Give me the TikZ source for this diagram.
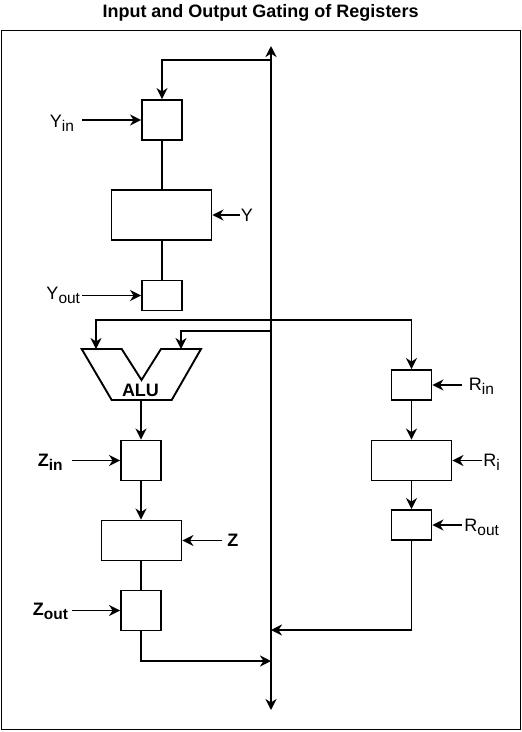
\documentclass[tikz,border=0pt]{standalone}
\usepackage{fontspec}
\setmainfont{Liberation Sans}
\usetikzlibrary{arrows.meta}
\newcommand\lowsub[1]{\raisebox{-0.45ex}{\fontsize{15.5}{15.5}\selectfont #1}}
\begin{document}
\begin{tikzpicture}[x=1pt,y=-1pt,line width=1.9pt,
  box/.style={draw,rectangle,inner sep=0pt,line width=1.9pt},
  arr/.style={-{Stealth[length=11pt,width=11pt,inset=3.5pt]}},
  darr/.style={{Stealth[length=11pt,width=11pt,inset=3.5pt]}-{Stealth[length=11pt,width=11pt,inset=3.5pt]}},
  lab/.style={inner sep=0pt,font=\fontsize{18}{18}\selectfont},
  blab/.style={inner sep=0pt,font=\fontsize{18}{18}\selectfont\bfseries},
  ttl/.style={inner sep=0pt,font=\fontsize{18}{18}\selectfont\bfseries}]
\useasboundingbox (0,0) rectangle (522,732);
% title and frame
\node[ttl,anchor=base] (title) at (260.5,17.5) {Input and Output Gating of Registers};
\draw[line width=1.9pt] (1.5,30.5) rectangle (520.5,729.5);
% bus coordinates
\coordinate (bustop) at (271,46);
\coordinate (busbot) at (271,710);
\coordinate (j1) at (271,60);
\coordinate (j3) at (271,331);
\coordinate (j4) at (271,630);
\coordinate (j5) at (271,661);
\draw[darr] (busbot) -- (bustop);
% Y register
\node[box,minimum width=40pt,minimum height=40pt] (yin) at (162,120) {};
\node[box,minimum width=100pt,minimum height=50pt] (ybox) at (161.5,215) {};
\node[box,minimum width=40pt,minimum height=30pt] (yout) at (162,295.5) {};
\draw[arr] (j1) -| (yin.north);
\draw (yin.south) -- (ybox.north -| yin.south);
\draw (ybox.south -| yout.north) -- (yout.north);
\coordinate (yinsrc) at (82,120);
\coordinate (ysrc) at (240,215);
\coordinate (youtsrc) at (82,295.5);
\draw[arr] (yinsrc) -- (yin.west);
\draw[arr] (ysrc) -- (ybox.east);
\draw[arr] (youtsrc) -- (yout.west);
\node[lab,anchor=base east] (lyin) at (75,127) {Y\lowsub{in}};
\node[lab,anchor=base west] (ly) at (240,221.5) {Y};
\node[lab,anchor=base east] (lyout) at (81,299.5) {Y\lowsub{out}};
% ALU
\coordinate (alu1) at (81.7,349);
\coordinate (alu2) at (121.7,349);
\coordinate (alu3) at (141.5,380);
\coordinate (alu4) at (161,349);
\coordinate (alu5) at (201,349);
\coordinate (alu6) at (171.7,400);
\coordinate (alu7) at (111.7,400);
\draw[line join=miter] (alu1) -- (alu2) -- (alu3) -- (alu4) -- (alu5) -- (alu6) -- (alu7) -- cycle;
\coordinate (alua) at (96,349);
\coordinate (alub) at (181,349);
\coordinate (aluout) at (141,400);
\node[blab,anchor=base] (lalu) at (140.5,396) {ALU};
% Z register
\node[box,minimum width=40pt,minimum height=40pt] (zin) at (141,460.5) {};
\node[box,minimum width=80pt,minimum height=40pt] (zbox) at (141.5,540.5) {};
\node[box,minimum width=40pt,minimum height=40pt] (zout) at (141,610.5) {};
\draw[arr] (aluout) -- (zin.north);
\draw[arr] (zin.south) -- (zbox.north -| zin.south);
\draw (zbox.south -| zout.north) -- (zout.north);
\draw[arr] (zout.south) |- (j5);
\coordinate (zinsrc) at (72,460.5);
\coordinate (zsrc) at (222,540.5);
\coordinate (zoutsrc) at (72,610.5);
\draw[arr] (zinsrc) -- (zin.west);
\draw[arr] (zsrc) -- (zbox.east);
\draw[arr] (zoutsrc) -- (zout.west);
\node[blab,anchor=base east] (lzin) at (63.5,466) {Z\lowsub{in}};
\node[blab,anchor=base west] (lz) at (226.5,546) {Z};
\node[blab,anchor=base east] (lzout) at (69,615) {Z\lowsub{out}};
% R register
\node[box,minimum width=40pt,minimum height=30pt] (rin) at (411.5,385) {};
\node[box,minimum width=80pt,minimum height=40pt] (ri) at (411.5,460.5) {};
\node[box,minimum width=40pt,minimum height=30pt] (rout) at (411.5,525) {};
\draw[darr] (alua) -- (alua |- 0,320) -| (rin.north);
\draw[arr] (j3) -| (alub);
\draw[arr] (rin.south) -- (ri.north);
\draw[arr] (ri.south) -- (rout.north);
\draw[arr] (rout.south) |- (j4);
\coordinate (rinsrc) at (462,385);
\coordinate (risrc) at (482,460.5);
\coordinate (routsrc) at (462,525);
\draw[arr] (rinsrc) -- (rin.east);
\draw[arr] (risrc) -- (ri.east);
\draw[arr] (routsrc) -- (rout.east);
\node[lab,anchor=base west] (lrin) at (468,390) {R\lowsub{in}};
\node[lab,anchor=base west] (lri) at (482.5,466) {R\lowsub{i}};
\node[lab,anchor=base west] (lrout) at (463.5,531.5) {R\lowsub{out}};
\end{tikzpicture}
\end{document}
